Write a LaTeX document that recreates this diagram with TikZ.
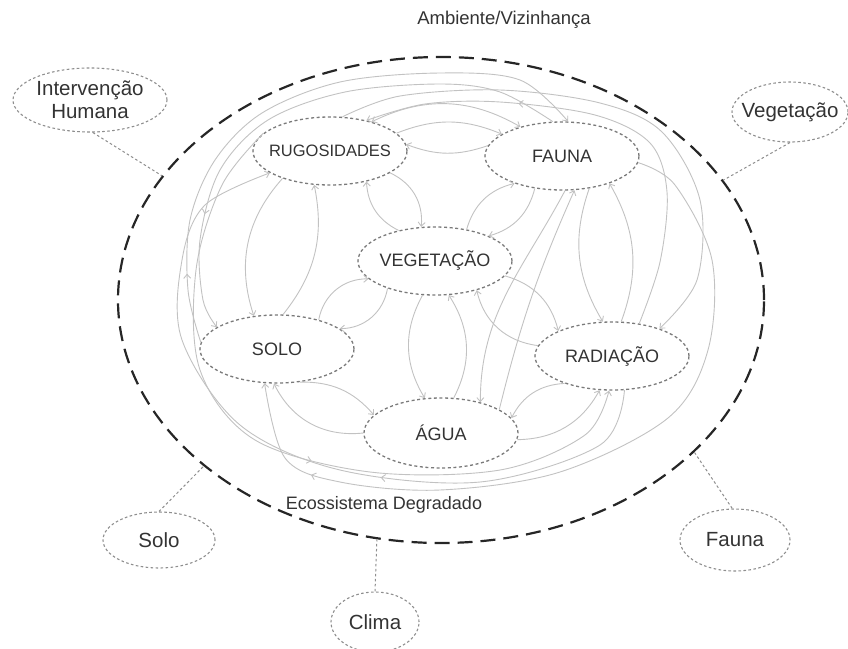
\documentclass[tikz,border=0pt]{standalone}
\usepackage{fontspec}
\setmainfont{Liberation Sans}
\usetikzlibrary{arrows.meta,shapes.geometric,decorations.markings}
\definecolor{arrgray}{HTML}{C2C2C2}
\definecolor{elgray}{HTML}{7A7A7A}
\definecolor{txtgray}{HTML}{333333}
\begin{document}
\begin{tikzpicture}[x=1pt,y=1pt,
 >={Straight Barb[length=4pt,width=7pt]},
 inner/.style={ellipse,draw=elgray,line width=1.3pt,dash pattern=on 3pt off 2.6pt,minimum width=154pt,minimum height=68pt,inner sep=0pt},
 outer/.style={ellipse,draw=elgray!85,line width=1.1pt,dash pattern=on 2.6pt off 2.4pt,inner sep=0pt},
 ilbl/.style={font=\fontsize{18}{20}\selectfont,text=txtgray},
 olbl/.style={font=\fontsize{20.5}{23}\selectfont,text=txtgray,align=center},
 tlbl/.style={font=\fontsize{18.5}{21}\selectfont,text=txtgray},
 arr/.style={draw=arrgray,line width=0.9pt,->},
 conn/.style={draw=elgray!85,line width=1pt,dash pattern=on 2.6pt off 2.4pt},
 midarr/.style={postaction={decorate,decoration={markings,mark=at position #1 with {\arrow{>}}}}},
 big/.style={ellipse,draw=black!85,line width=2.2pt,dash pattern=on 15pt off 8pt,inner sep=0pt},
 loop/.style={smooth,tension=0.55},
]
\useasboundingbox (0,0) rectangle (848,-648);

% titles
\node[tlbl] (title) at (504,-20) {Ambiente/Vizinhança};
\node[tlbl,font=\fontsize{18}{21}\selectfont] (ecolbl) at (384,-505) {Ecossistema Degradado};

% big ecosystem ellipse
\node[big,minimum width=646pt,minimum height=486pt] (eco) at (441,-300) {};

% inner nodes
\node[inner,label={[ilbl,font=\fontsize{16.5}{19}\selectfont]center:RUGOSIDADES}] (rug) at (330,-151) {};
\node[inner,label={[ilbl]center:FAUNA}] (fauna) at (562,-156) {};
\node[inner,label={[ilbl]center:VEGETAÇÃO}] (veg) at (435,-261) {};
\node[inner,label={[ilbl]center:SOLO}] (solo) at (277,-349) {};
\node[inner,label={[ilbl]center:RADIAÇÃO}] (rad) at (612,-356) {};
\node[inner,minimum height=70pt,label={[ilbl]center:ÁGUA}] (agua) at (441,-433) {};

% outer nodes
\node[outer,minimum width=154pt,minimum height=64pt,label={[olbl]center:Intervenção\\Humana}] (ih) at (90,-100) {};
\node[outer,minimum width=116pt,minimum height=60pt,label={[olbl]center:Vegetação}] (vego) at (790,-112) {};
\node[outer,minimum width=112pt,minimum height=56pt,label={[olbl]center:Solo}] (soloo) at (159,-540) {};
\node[outer,minimum width=88pt,minimum height=60pt,label={[olbl]center:Clima}] (clima) at (375,-622) {};
\node[outer,minimum width=110pt,minimum height=62pt,label={[olbl]center:Fauna}] (faunao) at (735,-540) {};

% connectors to outer nodes
\draw[conn] (ih.-85) -- (eco.156);
\draw[conn] (vego.-90) -- (eco.23);
\draw[conn] (soloo.90) -- (eco.-145);
\draw[conn] (clima.90) -- (eco.-105);
\draw[conn] (faunao.95) -- (eco.-31);

% inner arrows
\draw[arr,<->] (rug.35) to[bend left=28] (fauna.145);
\draw[arr] (rug.15) to[bend left=22] (fauna.160);
\draw[arr] (fauna.172) to[bend left=20] (rug.5);
\draw[arr] (veg.140) to[bend left=30] (rug.-40);
\draw[arr] (rug.-20) to[bend left=35] (veg.112);
\draw[arr] (veg.45) to[bend left=30] (fauna.-150);
\draw[arr] (fauna.-130) to[bend left=30] (veg.25);
\draw[arr] (rug.-150) to[bend right=30] (solo.125);
\draw[arr] (solo.80) to[bend right=25] (rug.-115);
\draw[arr] (solo.35) to[bend left=40] (veg.-165);
\draw[arr] (veg.-150) to[bend left=40] (solo.18);
\draw[arr] (veg.-110) to[bend right=30] (agua.115);
\draw[arr] (agua.70) to[bend right=30] (veg.-68);
\draw[arr] (veg.-12) to[bend left=30] (rad.155);
\draw[arr] (rad.172) to[bend left=35] (veg.-35);
\draw[arr] (fauna.-85) to[out=-118,in=90] (agua.38);
\draw[arr] (agua.22) to[bend left=5] (fauna.-70);
\draw[arr] (fauna.-50) to[bend right=25] (rad.105);
\draw[arr] (rad.75) to[bend right=25] (fauna.-30);
\draw[arr] (rad.-150) to[bend right=30] (agua.12);
\draw[arr] (agua.-5) to[bend right=30] (rad.-110);
\draw[arr] (solo.-55) to[bend left=25] (agua.165);
\draw[arr] (agua.180) to[bend left=35] (solo.-95);

% outer loops
% RUG -> RAD over the top and down the right side
\draw[arr] plot[loop] coordinates {(rug.70) (400,-96) (500,-90) (600,-103) (662,-132) (700,-200) (697,-280) (rad.30)};
% RAD -> RUG up the right side and over the top
\draw[arr,midarr=0.68] plot[loop] coordinates {(rad.50) (660,-262) (667,-192) (650,-143) (595,-115) (500,-102) (425,-104) (rug.40)};
% FAUNA -> SOLO over the top and down the left side
\draw[arr,midarr=0.78] plot[loop] coordinates {(fauna.105) (500,-92) (440,-84) (345,-92) (268,-120) (220,-170) (200,-240) (203,-300) (solo.160)};
% SOLO -> FAUNA up the left side and over the top
\draw[arr,midarr=0.12] plot[loop] coordinates {(solo.175) (188,-290) (190,-220) (215,-160) (262,-113) (340,-82) (440,-73) (520,-80) (fauna.80)};
% RUG -> RAD down the left side and along the bottom
\draw[arr,midarr=0.55] plot[loop] coordinates {(rug.165) (222,-185) (196,-270) (200,-370) (255,-440) (370,-472) (500,-470) (585,-435) (rad.-95)};
% RAD -> RUG along the bottom and up the left side
\draw[arr,midarr=0.38] plot[loop] coordinates {(rad.-70) (600,-445) (480,-482) (340,-470) (240,-425) (182,-340) (182,-260) (205,-205) (rug.-160)};
% FAUNA -> SOLO down the right side and along the bottom
\draw[arr,midarr=0.86] plot[loop] coordinates {(fauna.-5) (675,-185) (712,-260) (708,-350) (668,-418) (560,-472) (440,-490) (340,-482) (285,-458) (solo.-110)};
\end{tikzpicture}
\end{document}
